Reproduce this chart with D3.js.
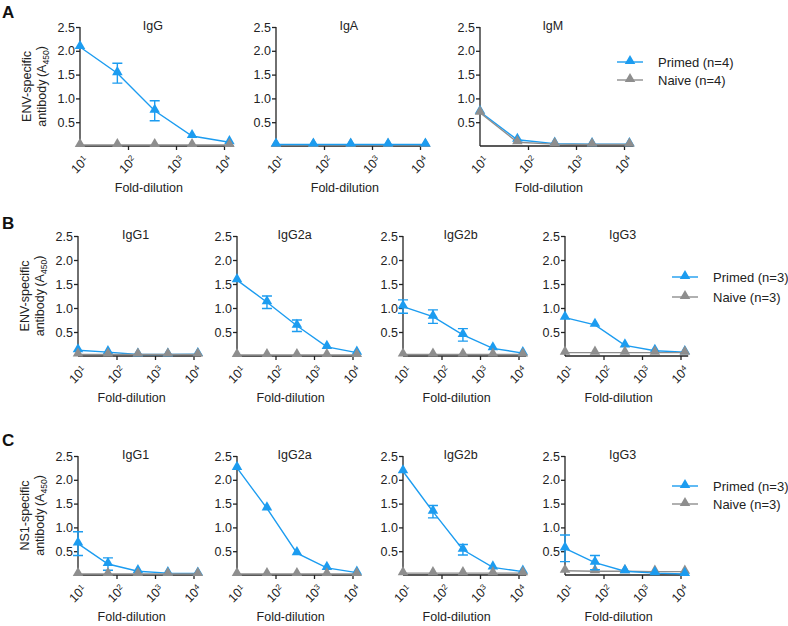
<!DOCTYPE html>
<html>
<head>
<meta charset="utf-8">
<script src="https://cdn.jsdelivr.net/npm/d3@7"></script>
<style>
  body { margin: 0; background: #fff; }
  svg { display: block; font-family: "Liberation Sans", Arial, sans-serif; }
</style>
</head>
<body>
<svg id="chart" width="788" height="626"></svg>
<script>
// Shared axes
const dilutions = [10, 60, 360, 2160, 12960];
const xTickVals = [1e1, 1e2, 1e3, 1e4];
const xTickExp = ['1', '2', '3', '4'];
const yTickVals = [0.5, 1.0, 1.5, 2.0, 2.5];

// Panel A: ENV-specific, n=4
const titlesA = ['IgG', 'IgA', 'IgM'];
const primedA = [
  [2.08, 1.53, 0.74, 0.21, 0.08],
  [0.03, 0.03, 0.03, 0.03, 0.03],
  [0.72, 0.13, 0.05, 0.04, 0.04]
];
const primedErrA = [
  [0.03, 0.21, 0.21, 0.02, 0.01],
  [0, 0, 0, 0, 0],
  [0.02, 0.02, 0.01, 0, 0]
];
const naiveA = [
  [0.02, 0.02, 0.02, 0.02, 0.02],
  [0.02, 0.02, 0.02, 0.02, 0.02],
  [0.70, 0.08, 0.04, 0.03, 0.03]
];

// Panel B: ENV-specific subclasses, n=3
const titlesB = ['IgG1', 'IgG2a', 'IgG2b', 'IgG3'];
const primedB = [
  [0.12, 0.08, 0.03, 0.03, 0.04],
  [1.58, 1.12, 0.63, 0.19, 0.07],
  [1.03, 0.82, 0.44, 0.16, 0.06],
  [0.80, 0.65, 0.22, 0.11, 0.08]
];
const primedErrB = [
  [0, 0, 0, 0, 0],
  [0.04, 0.13, 0.12, 0.02, 0.01],
  [0.14, 0.14, 0.13, 0.02, 0.01],
  [0.03, 0.03, 0.02, 0.01, 0.01]
];
const naiveB = [
  [0.03, 0.03, 0.03, 0.03, 0.03],
  [0.02, 0.02, 0.02, 0.02, 0.02],
  [0.03, 0.03, 0.03, 0.03, 0.03],
  [0.07, 0.07, 0.07, 0.07, 0.07]
];

// Panel C: NS1-specific subclasses, n=3
const titlesC = ['IgG1', 'IgG2a', 'IgG2b', 'IgG3'];
const primedC = [
  [0.66, 0.23, 0.08, 0.04, 0.03],
  [2.25, 1.40, 0.46, 0.15, 0.05],
  [2.18, 1.33, 0.53, 0.16, 0.07],
  [0.56, 0.26, 0.08, 0.04, 0.02]
];
const primedErrC = [
  [0.25, 0.13, 0.02, 0.01, 0],
  [0.03, 0.03, 0.02, 0.01, 0],
  [0.03, 0.13, 0.11, 0.02, 0.01],
  [0.28, 0.15, 0.02, 0.01, 0]
];
const naiveC = [
  [0.02, 0.02, 0.02, 0.02, 0.02],
  [0.02, 0.02, 0.02, 0.02, 0.02],
  [0.04, 0.04, 0.04, 0.04, 0.04],
  [0.09, 0.08, 0.08, 0.07, 0.07]
];

const BLUE = '#1c9cf0';
const GREY = '#8e8e8e';
const AXIS = '#222';

// plots where the primed series sits above the naive one
const primedOnTop = new Set(['A1', 'C3']);

const svg = d3.select('#chart');
const tri = d3.symbol().type(d3.symbolTriangle).size(48);

function drawPlot(opts) {
  const { x0, top, bottom, decade, title, primed, err, naive, key } = opts;
  const xEnd = x0 + decade * 3.2;
  const x = d3.scaleLog().domain([10, Math.pow(10, 4.2)]).range([x0, xEnd]);
  const y = d3.scaleLinear().domain([0, 2.5]).range([bottom, top]);
  const g = svg.append('g');

  // y axis
  const ya = g.append('g').attr('transform', `translate(${x0},0)`)
    .call(d3.axisLeft(y).tickValues(yTickVals).tickSize(4).tickPadding(1)
      .tickFormat(d3.format('.1f')));
  ya.select('.domain').attr('d', `M0,${bottom}V${top}`).attr('stroke', AXIS).attr('stroke-width', 1.3);
  ya.selectAll('.tick line').attr('stroke', AXIS).attr('stroke-width', 1.3);
  ya.selectAll('.tick text').attr('font-size', 12.5).attr('fill', '#222')
    .attr('font-family', '"Liberation Sans", Arial, sans-serif');

  // x axis
  const xa = g.append('g').attr('transform', `translate(0,${bottom})`)
    .call(d3.axisBottom(x).tickValues(xTickVals.slice(1)).tickSize(4).tickFormat(''));
  xa.select('.domain').attr('d', `M${x0},0H${xEnd}`).attr('stroke', AXIS).attr('stroke-width', 1.3);
  xa.selectAll('.tick line').attr('stroke', AXIS).attr('stroke-width', 1.3);

  // rotated 10^n labels
  xTickVals.forEach((v, i) => {
    const tx = x(v) + 3, ty = bottom + 9;
    const t = g.append('text')
      .attr('transform', `translate(${tx},${ty}) rotate(-45)`)
      .attr('text-anchor', 'end')
      .attr('dy', '0.7em')
      .attr('font-size', 12.5)
      .attr('fill', '#222');
    t.append('tspan').text('10');
    t.append('tspan').attr('font-size', 8).attr('dy', '-0.5em').text(xTickExp[i]);
  });

  g.append('text')
    .attr('x', (x0 + xEnd) / 2 - 8).attr('y', bottom + 46)
    .attr('text-anchor', 'middle').attr('font-size', 12.5).attr('fill', '#222')
    .text('Fold-dilution');

  g.append('text')
    .attr('x', (x0 + xEnd) / 2 - 4).attr('y', top + 3)
    .attr('text-anchor', 'middle').attr('font-size', 12.5).attr('fill', '#222')
    .text(title);

  const line = d3.line().x((d, i) => x(dilutions[i])).y(d => y(d));

  function series(vals, color, errs) {
    const s = g.append('g');
    s.append('path').datum(vals).attr('d', line)
      .attr('fill', 'none').attr('stroke', color).attr('stroke-width', 1.4);
    if (errs) {
      vals.forEach((v, i) => {
        if (errs[i] < 0.05) return;
        const cx = x(dilutions[i]);
        const y1 = y(v + errs[i]), y2 = y(Math.max(0, v - errs[i]));
        s.append('path')
          .attr('d', `M${cx},${y1}V${y2}M${cx - 5},${y1}H${cx + 5}M${cx - 5},${y2}H${cx + 5}`)
          .attr('stroke', color).attr('stroke-width', 1.4).attr('fill', 'none');
      });
    }
    s.selectAll('path.pt').data(vals).join('path').attr('class', 'pt')
      .attr('transform', (d, i) => `translate(${x(dilutions[i])},${y(d) - 1})`)
      .attr('d', tri).attr('fill', color);
  }

  if (primedOnTop.has(key)) {
    series(naive, GREY, null);
    series(primed, BLUE, err);
  } else {
    series(primed, BLUE, err);
    series(naive, GREY, null);
  }
}

function yLabel(x0, top, bottom, first) {
  const cy = (top + bottom) / 2;
  const t1 = svg.append('text')
    .attr('transform', `translate(${x0 - 49},${cy}) rotate(-90)`)
    .attr('text-anchor', 'middle').attr('font-size', 12.5).attr('fill', '#222')
    .text(first);
  const t2 = svg.append('text')
    .attr('transform', `translate(${x0 - 34},${cy}) rotate(-90)`)
    .attr('text-anchor', 'middle').attr('font-size', 12.5).attr('fill', '#222');
  t2.append('tspan').text('antibody\u2009(A');
  t2.append('tspan').attr('font-size', 8.5).attr('dy', '0.3em').text('450');
  t2.append('tspan').attr('dy', '-0.3em').text(')');
}

function legend(x, y, gap, n) {
  const g = svg.append('g').attr('transform', `translate(${x},${y})`);
  [['Primed', BLUE], ['Naive', GREY]].forEach(([name, c], i) => {
    const row = g.append('g').attr('transform', `translate(0,${i * gap})`);
    row.append('line').attr('x1', 0).attr('x2', 26).attr('stroke', c).attr('stroke-width', 1.4);
    row.append('path').attr('d', tri).attr('transform', 'translate(13,-1)').attr('fill', c);
    row.append('text').attr('x', 41).attr('dy', '0.35em')
      .attr('font-size', 13).attr('fill', '#222').text(`${name} (n=${n})`);
  });
}

function panelLabel(letter, y) {
  svg.append('text').attr('x', 2).attr('y', y)
    .attr('font-size', 17).attr('font-weight', 'bold').attr('fill', '#111').text(letter);
}

// Panel A
const aX = [80, 276, 480];
titlesA.forEach((t, i) => drawPlot({
  x0: aX[i], top: 27, bottom: 146, decade: 48, title: t,
  primed: primedA[i], err: primedErrA[i], naive: naiveA[i], key: 'A' + i
}));
yLabel(80, 27, 146, 'ENV-specific');
legend(617, 62, 18, 4);
panelLabel('A', 18);

// Panel B
const bcX = [78, 237, 403, 565];
titlesB.forEach((t, i) => drawPlot({
  x0: bcX[i], top: 236, bottom: 356, decade: 38.5, title: t,
  primed: primedB[i], err: primedErrB[i], naive: naiveB[i], key: 'B' + i
}));
yLabel(78, 236, 356, 'ENV-specific');
legend(672, 277, 20, 3);
panelLabel('B', 229);

// Panel C
titlesC.forEach((t, i) => drawPlot({
  x0: bcX[i], top: 456, bottom: 575, decade: 38.5, title: t,
  primed: primedC[i], err: primedErrC[i], naive: naiveC[i], key: 'C' + i
}));
yLabel(78, 456, 575, 'NS1-specific');
legend(672, 486, 18, 3);
panelLabel('C', 446);
</script>
</body>
</html>
